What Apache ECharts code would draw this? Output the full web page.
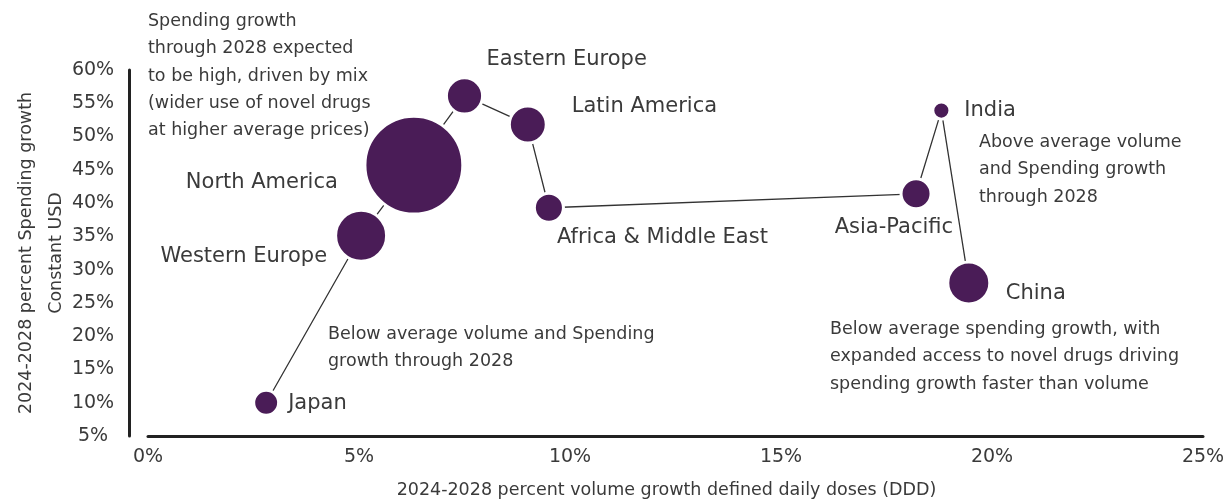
<!DOCTYPE html>
<html>
<head>
<meta charset="utf-8">
<script src="https://cdn.jsdelivr.net/npm/echarts@6/dist/echarts.min.js"></script>
<style>html,body{margin:0;padding:0;background:#fff;}#c{width:1230px;height:500px;}</style>
</head>
<body>
<div id="c"></div>
<script>
// ---- data ----
const regions = ['Japan','Western Europe','North America','Eastern Europe','Latin America','Africa & Middle East','Asia-Pacific','India','China'];
const volumeGrowth = [2.8, 5.05, 6.3, 7.5, 9.0, 9.5, 18.2, 18.8, 19.45];      // x, %
const spendingGrowth = [10.0, 35.1, 45.7, 56.1, 51.8, 39.3, 41.4, 53.9, 28.0]; // y, %
const marketSize = [4.8, 23, 90, 11, 11.5, 6.8, 7.3, 2, 15.2];                  // bubble size (relative)
const xTicks = [0, 5, 10, 15, 20, 25];
const yTicks = [5, 10, 15, 20, 25, 30, 35, 40, 45, 50, 55, 60];

const FONT = 'DejaVu Sans';
const TXT = '#3a3a3a';
const PURPLE = '#4a1c57';

// label placements (style only)
const labelPlace = {
  'Japan': {align:'left', offset:[22, 1]},
  'Western Europe': {align:'right', offset:[-34, 21]},
  'North America': {align:'right', offset:[-76, 17]},
  'Eastern Europe': {align:'left', offset:[22, -36]},
  'Latin America': {align:'left', offset:[44, -18]},
  'Africa & Middle East': {align:'left', offset:[8, 30]},
  'Asia-Pacific': {align:'right', offset:[37, 34]},
  'India': {align:'left', offset:[23, 0]},
  'China': {align:'left', offset:[37, 11]}
};

const pts = regions.map((r, i) => [volumeGrowth[i], spendingGrowth[i]]);
const bubbles = regions.map((r, i) => ({
  name: r,
  value: [volumeGrowth[i], spendingGrowth[i], marketSize[i]],
  label: {align: labelPlace[r].align, offset: labelPlace[r].offset}
}));

const chart = echarts.init(document.getElementById('c'), null, {renderer:'canvas'});
chart.setOption({
  animation: false,
  backgroundColor: '#fff',
  textStyle: {fontFamily: FONT, color: TXT},
  grid: {left: 148, right: 27, top: 70, bottom: 64, containLabel: false, outerBoundsMode: 'none'},
  xAxis: {
    type: 'value', min: 0, max: 25, interval: 5,
    axisLine: {show: true, onZero: false, lineStyle: {color: '#222', width: 3}},
    axisTick: {show: false}, splitLine: {show: false},
    axisLabel: {fontSize: 19, color: TXT, margin: 12, fontFamily: FONT,
      formatter: v => xTicks.includes(v) ? v + '%' : ''},
    name: '2024-2028 percent volume growth defined daily doses (DDD)',
    nameLocation: 'middle', nameGap: 45, nameMoveOverlap: false,
    nameTextStyle: {fontSize: 17.5, color: TXT, fontFamily: FONT, padding: [0, 18, 0, 0]}
  },
  yAxis: {
    type: 'value', min: 5, max: 60, interval: 5, offset: 19,
    axisLine: {show: true, onZero: false, lineStyle: {color: '#222', width: 3}},
    axisTick: {show: false}, splitLine: {show: false},
    axisLabel: {fontSize: 19, color: TXT, margin: 36, align: 'center', fontFamily: FONT,
      formatter: v => yTicks.includes(v) ? v + '%' : ''},
    name: '2024-2028 percent Spending growth\nConstant USD',
    nameLocation: 'middle', nameRotate: 90, nameGap: 58, nameMoveOverlap: false,
    nameTextStyle: {fontSize: 17.5, color: TXT, fontFamily: FONT, lineHeight: 30}
  },
  series: [
    {
      type: 'line', data: pts, symbol: 'none', z: 1,
      lineStyle: {color: '#333', width: 1.3}
    },
    {
      type: 'scatter', data: bubbles, z: 3,
      symbolSize: v => Math.sqrt(v[2]) * 10 + 3,
      itemStyle: {color: PURPLE, borderColor: '#fff', borderWidth: 3, opacity: 1},
      label: {show: true, position: 'inside', formatter: p => p.name,
        fontSize: 21, color: TXT, fontFamily: FONT}
    }
  ],
  graphic: [
    {type:'text', left: 148, top: 8, style:{text:'Spending growth\nthrough 2028 expected\nto be high, driven by mix\n(wider use of novel drugs\nat higher average prices)', fontSize:17.5, lineHeight:27.3, fontFamily:FONT, fill:TXT}},
    {type:'text', left: 328, top: 321, style:{text:'Below average volume and Spending\ngrowth through 2028', fontSize:17.5, lineHeight:27.3, fontFamily:FONT, fill:TXT}},
    {type:'text', left: 979, top: 129, style:{text:'Above average volume\nand Spending growth\nthrough 2028', fontSize:17.5, lineHeight:27.3, fontFamily:FONT, fill:TXT}},
    {type:'text', left: 830, top: 316, style:{text:'Below average spending growth, with\nexpanded access to novel drugs driving\nspending growth faster than volume', fontSize:17.5, lineHeight:27.3, fontFamily:FONT, fill:TXT}}
  ]
});
</script>
</body>
</html>
